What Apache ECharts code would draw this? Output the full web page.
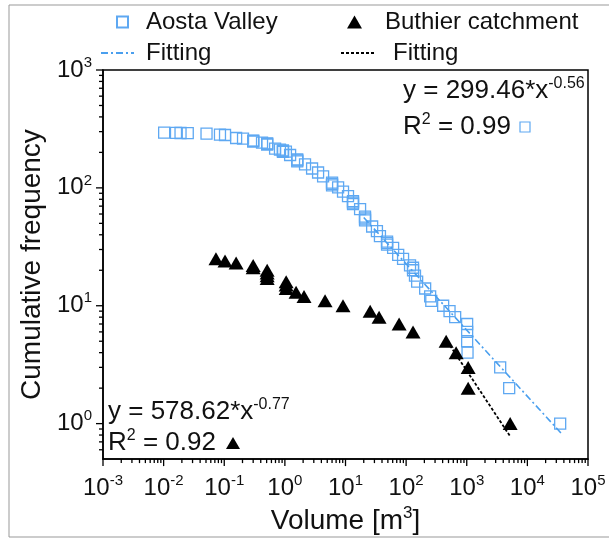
<!DOCTYPE html>
<html><head><meta charset="utf-8">
<script src="https://cdn.jsdelivr.net/npm/echarts@6/dist/echarts.min.js"></script>
<style>html,body{margin:0;padding:0;background:#fff}#c{width:609px;height:542px}</style>
</head><body><div id="c"></div>
<script>
// ---- data ----
const aostaVolume = [0.0102,0.016,0.019,0.025,0.051,0.085,0.103,0.157,0.204,0.30,0.30,0.30,0.42,0.51,0.51,0.51,0.69,0.83,0.93,0.93,0.93,1.04,1.22,1.6,1.6,1.6,2.15,2.81,3.53,4.27,6.0,6.0,6.0,7.55,9.1,11,13.3,13.3,13.3,17.4,21,21,21,27.5,33,37,48.5,48.5,48.5,61,74,89,116,130,130,140,152,206,249,260,408,520,644,1015,1015,1015,1030,3560,5010,34750];
const aostaCount  = [294,293,292,291,288,283,281,265,262,252,250,247,242,238,236,233,215,211,208,205,202,203,190,174,171,168,158,146,135,125,111,108,105,101,93,85,77,75,73,66,57,55,53,47,43,39,35,34,33,31,27,25,22,21,20,18,16,14,12,11,10,9,8,7,6,5,4,3,2,1];
const buthierVolume = [0.073,0.103,0.157,0.30,0.30,0.51,0.51,0.51,0.51,1.05,1.05,1.05,1.53,2.07,4.6,9.1,25.5,35.8,76.6,130,457,668,1055,1055,5200];
const buthierCount  = [25,24,23,22,21,20,19,18,17,16,15,14,13,12,11,10,9,8,7,6,5,4,3,2,1];
const aostaFitVolume = [20, 36000];
const aostaFitFreq   = [56, 0.83];
const buthierFitVolume = [530, 5200];
const buthierFitFreq   = [4.6, 0.78];
const xDecades = [-3,-2,-1,0,1,2,3,4,5];
const yDecades = [0,1,2,3];
const X_MIN = 0.001, X_MAX = 100000, Y_MIN = 0.5, Y_MAX = 1000;
const aostaName = 'Aosta Valley', buthierName = 'Buthier catchment';
const fitLabel = 'Fitting';
const aostaEq = ['y = 299.46*x', '-0.56', 'R', '2', ' = 0.99'];
const buthierEq = ['y = 578.62*x', '-0.77', 'R', '2', ' = 0.92'];

// ---- build ----
const FONT = "'Liberation Sans', Arial, Helvetica, sans-serif";
const BLUE = '#5ea8f2';
const zip = (a, b) => a.map((v, i) => [v, b[i]]);

const xTicks = [], yTicks = [];
xDecades.forEach(e => {
  xTicks.push([Math.pow(10, e), Y_MIN, 1]);
  if (e < xDecades[xDecades.length - 1]) for (let k = 2; k <= 9; k++) xTicks.push([k * Math.pow(10, e), Y_MIN, 0]);
});
[0.6, 0.7, 0.8, 0.9].forEach(v => yTicks.push([X_MIN, v, 0]));
yDecades.forEach(e => {
  yTicks.push([X_MIN, Math.pow(10, e), 1]);
  if (e < yDecades[yDecades.length - 1]) for (let k = 2; k <= 9; k++) yTicks.push([X_MIN, k * Math.pow(10, e), 0]);
});

function powLabel(v) {
  const l = Math.log10(v), e = Math.round(l);
  if (Math.abs(l - e) > 1e-6) return '';
  return '{b|10}{s|' + e + '}';
}
const RICH = {
  b: { fontSize: 24, fontFamily: FONT, color: '#111', lineHeight: 30 },
  s: { fontSize: 15, fontFamily: FONT, color: '#111', verticalAlign: 'top', lineHeight: 16 }
};

function legendOne(name, left, top, icon, iw, ih, pad, isLine) {
  const d = { name: name };
  if (icon) d.icon = icon;
  if (isLine) d.itemStyle = { color: 'rgba(0,0,0,0)', borderWidth: 0, opacity: 0 };
  return {
    data: [d], left: left, top: top, itemWidth: iw, itemHeight: ih, padding: 0, itemGap: 0,
    selectedMode: false,
    textStyle: { fontSize: 24, color: '#111', fontFamily: FONT, lineHeight: 26, padding: [0, 0, 0, pad] }
  };
}

const chart = echarts.init(document.getElementById('c'), null, { renderer: 'canvas' });
chart.setOption({
  animation: false,
  backgroundColor: '#fff',
  grid: { left: 103, right: 21, top: 70, bottom: 81, show: true, borderColor: '#000', borderWidth: 1.5, backgroundColor: 'transparent' },
  legend: [
    legendOne(aostaName, 116, 9, 'rect', 11, 11, 13, false),
    legendOne(buthierName, 347, 9, 'triangle', 15, 13, 18, false),
    legendOne(fitLabel, 100, 40, null, 33, 12, 7, true),
    legendOne(fitLabel + ' ', 340, 40, null, 35, 12, 12, true)
  ],
  xAxis: {
    type: 'log', logBase: 10, min: X_MIN, max: X_MAX,
    splitLine: { show: false }, axisTick: { show: false }, minorTick: { show: false },
    axisLine: { lineStyle: { color: '#000', width: 1.5 } },
    axisLabel: { interval: 0, margin: 14, formatter: powLabel, rich: RICH },
    name: 'Volume [m{s|3}]', nameLocation: 'middle', nameGap: 40,
    nameTextStyle: { fontSize: 28, color: '#111', fontFamily: FONT, lineHeight: 32,
      rich: { s: { fontSize: 17, fontFamily: FONT, color: '#111', verticalAlign: 'top', lineHeight: 18 } } }
  },
  yAxis: {
    type: 'log', logBase: 10, min: Y_MIN, max: Y_MAX,
    splitLine: { show: false }, axisTick: { show: false }, minorTick: { show: false },
    axisLine: { lineStyle: { color: '#000', width: 1.5 } },
    axisLabel: { interval: 0, margin: 11, formatter: powLabel, rich: RICH, showMinLabel: true },
    name: 'Cumulative frequency', nameLocation: 'middle', nameGap: 50,
    nameTextStyle: { fontSize: 28, color: '#111', fontFamily: FONT }
  },
  series: [
    { name: aostaName, type: 'scatter', data: zip(aostaVolume, aostaCount), symbol: 'rect', symbolSize: 11,
      itemStyle: { color: 'rgba(255,255,255,0)', borderColor: BLUE, borderWidth: 1.3, opacity: 1 }, z: 2 },
    { name: buthierName, type: 'scatter', data: zip(buthierVolume, buthierCount), symbol: 'triangle', symbolSize: [15, 13],
      itemStyle: { color: '#000', opacity: 1 }, z: 3 },
    { name: fitLabel, type: 'line', data: zip(aostaFitVolume, aostaFitFreq), symbol: 'none', showSymbol: false,
      lineStyle: { color: '#4a9fee', width: 1.6, type: [7, 3, 2, 3] }, itemStyle: { color: '#4a9fee' }, z: 4 },
    { name: fitLabel + ' ', type: 'line', data: zip(buthierFitVolume, buthierFitFreq), symbol: 'none', showSymbol: false,
      lineStyle: { color: '#000', width: 1.8, type: [3, 2] }, itemStyle: { color: '#000' }, z: 4 },
    { type: 'custom', silent: true, clip: false, z: 6, data: xTicks,
      renderItem: (p, api) => { const c = api.coord([api.value(0), Y_MIN]); const L = api.value(2) ? 7 : 4;
        return { type: 'line', shape: { x1: c[0], y1: c[1], x2: c[0], y2: c[1] + L }, style: { stroke: '#000', lineWidth: 1.3 } }; } },
    { type: 'custom', silent: true, clip: false, z: 6, data: yTicks,
      renderItem: (p, api) => { const c = api.coord([X_MIN, api.value(1)]); const L = api.value(2) ? 7 : 4;
        return { type: 'line', shape: { x1: c[0], y1: c[1], x2: c[0] - L, y2: c[1] }, style: { stroke: '#000', lineWidth: 1.3 } }; } }
  ],
  graphic: [
    { type: 'line', shape: { x1: 9, y1: 5, x2: 609, y2: 5 }, style: { stroke: '#999', lineWidth: 1 }, silent: true },
    { type: 'line', shape: { x1: 9, y1: 5, x2: 9, y2: 537 }, style: { stroke: '#999', lineWidth: 1 }, silent: true },
    { type: 'line', shape: { x1: 9, y1: 537, x2: 609, y2: 537 }, style: { stroke: '#999', lineWidth: 1 }, silent: true },
    { type: 'text', x: 403, y: 91, style: { text: '{t|' + aostaEq[0] + '}{s|' + aostaEq[1] + '}', verticalAlign: 'middle',
      rich: { t: { fontSize: 26, fontFamily: FONT, fill: '#111', lineHeight: 30 }, s: { fontSize: 16, fontFamily: FONT, fill: '#111', verticalAlign: 'top', lineHeight: 16 } } } },
    { type: 'text', x: 403, y: 127, style: { text: '{t|' + aostaEq[2] + '}{s|' + aostaEq[3] + '}{t|' + aostaEq[4] + '}', verticalAlign: 'middle',
      rich: { t: { fontSize: 26, fontFamily: FONT, fill: '#111', lineHeight: 30 }, s: { fontSize: 16, fontFamily: FONT, fill: '#111', verticalAlign: 'top', lineHeight: 16 } } } },
    { type: 'rect', shape: { x: 520, y: 122, width: 10, height: 10 }, style: { fill: 'none', stroke: BLUE, lineWidth: 1.2 } },
    { type: 'text', x: 108, y: 412, style: { text: '{t|' + buthierEq[0] + '}{s|' + buthierEq[1] + '}', verticalAlign: 'middle',
      rich: { t: { fontSize: 26, fontFamily: FONT, fill: '#111', lineHeight: 30 }, s: { fontSize: 16, fontFamily: FONT, fill: '#111', verticalAlign: 'top', lineHeight: 16 } } } },
    { type: 'text', x: 108, y: 443, style: { text: '{t|' + buthierEq[2] + '}{s|' + buthierEq[3] + '}{t|' + buthierEq[4] + '}', verticalAlign: 'middle',
      rich: { t: { fontSize: 26, fontFamily: FONT, fill: '#111', lineHeight: 30 }, s: { fontSize: 16, fontFamily: FONT, fill: '#111', verticalAlign: 'top', lineHeight: 16 } } } },
    { type: 'polygon', shape: { points: [[233, 437], [240, 449], [226, 449]] }, style: { fill: '#000' } }
  ]
});
</script>
</body></html>
